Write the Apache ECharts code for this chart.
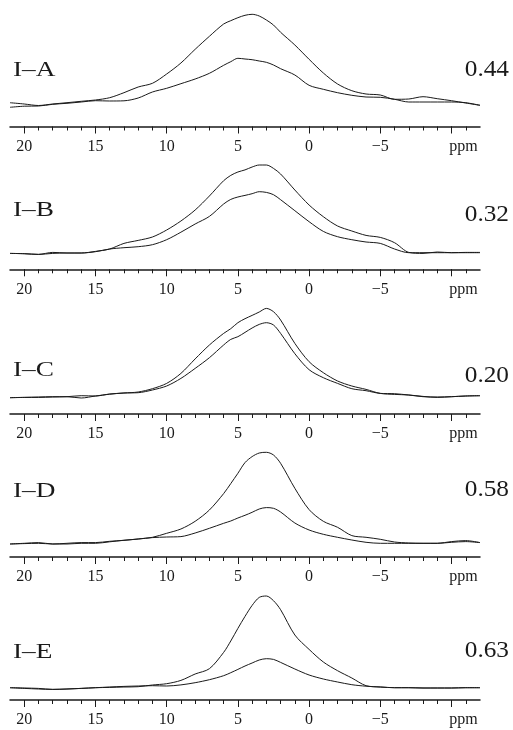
<!DOCTYPE html>
<html>
<head>
<meta charset="utf-8">
<script src="https://cdn.jsdelivr.net/npm/echarts@6/dist/echarts.min.js"></script>
<style>
html,body{margin:0;padding:0;background:#fff;}
#c{width:513px;height:730px;}
</style>
</head>
<body>
<div id="c"></div>
<script>
// chemical shift (ppm) sample positions, shared by all spectra
const ppm = [21,20,19,18,17,16,15,14,13,12,11,10,9,8,7,6,5.5,5,4.5,4,3.5,3,2.5,2,1,0,-1,-2,-3,-4,-5,-6,-7,-8,-9,-10,-11,-12];

// intensities (arbitrary units) for the two spectra of each sample
const A_upper = [1.8,0.5,-1,0.5,1.8,3.2,4.5,6.8,11.8,17.5,21.2,30.5,41.5,55.2,68.2,80.5,83.8,86.8,89.2,90.2,88.5,84.5,79.5,72.2,59.5,45.2,31.5,20.5,13.8,10.5,9.5,5.2,5.5,7.8,5.8,3.8,1.5,-0.8];
const A_lower = [-2.8,-1.7,-1.5,0.2,1.2,2.5,3.8,3.5,3.7,6.5,12.5,16.2,20.8,25.5,31.2,39.2,42.8,46.2,45.5,44.8,43.5,42.2,39.5,35.8,29.5,19.2,15.2,11.8,9.2,7.5,7.2,5.2,2.5,2.5,2.5,2.5,1.8,-0.8];
const B_upper = [-0.7,-1,-1.7,0.3,-0.3,-0.3,1.3,3.7,9.3,12.3,15.7,22.7,31.7,42.7,56.7,72,77.3,80.7,82.8,85.7,87.7,87.7,84.3,78.7,62.7,47.7,36,26.7,21.7,17.3,15.3,10,0.3,-0.7,0.7,0,0.3,0.3];
const B_lower = [-0.7,-1,-1.7,-0.7,-0.3,-0.3,1,3.7,5,6,8,13,20.5,28.7,36.3,48.7,53.3,55.7,57.3,59,61,60.3,58,53,42,31,21.3,16,13,10.7,9.3,3.7,0,0,0,0,0,0];
const C_upper = [-1,-0.7,-0.7,-0.3,0,1,0.7,2.7,3.7,4.7,8,13.3,23.3,37.8,51.7,63.3,68,74,78,81.3,84.7,88.3,85,76.7,53.3,35,24,15.7,10.7,7.3,3.3,2.3,1.7,0.3,-0.7,0,0.7,1];
const C_lower = [-1,-0.7,-0.3,0,0,-1.3,0.7,2.5,3.7,4,6.7,10.7,18.3,28.3,39,51.7,57.3,60,64.3,68.7,72.3,74,71.7,63.3,43,27,19,13.3,8,6,3.3,3,1.7,0,-0.3,0,0.7,1];
const D_upper = [-0.7,0,0.7,-0.7,0,0.7,0.7,2,3,4.3,6,10,14.3,22,33.3,49.7,59.7,70,80.7,86.7,90.3,91,88.3,80,55,33.7,22,16,7.7,6,4,1.3,0.3,0,0,1.7,2.7,0.7];
const D_lower = [-0.7,-0.3,0,-0.7,-0.7,0,0,1.5,3,4.3,5.7,6.3,6.7,10.3,15,20,22.3,25.3,28,31,34.3,35.7,35,31.3,20.3,13.3,9,6,3.3,1,0,0,0,0,0,1,1.7,0.7];
const E_upper = [0,-0.3,-0.7,-1.7,-1.3,-0.7,0,0.3,0.7,1,2.7,4,7.3,13.7,19,35.3,46.7,59.3,71.3,82.3,90.3,91.7,87,78,52.7,38.3,25.7,17,9.7,2,0.7,0,0,-0.3,-0.3,-0.3,0,0];
const E_lower = [0,-0.7,-1.3,-1.7,-1.3,-0.7,0,0.7,1.3,1.7,2,1.7,2.8,5,8,12,15,18.3,21.7,24.7,27.7,29,28.3,25.3,18.7,12.7,8.7,5.7,3,1.5,0.7,0,0,-0.3,-0.3,-0.3,0,0];

// sample names and ratios
const sampleNames = ['I\u2013A','I\u2013B','I\u2013C','I\u2013D','I\u2013E'];
const ratios = ['0.44','0.32','0.20','0.58','0.63'];

// axis tick labels
const majorTicks = [20,15,10,5,0,-5,-10];
const minorTicks = [20,19,18,17,16,15,14,13,12,11,10,9,8,7,6,5,4,3,2,1,0,-1,-2,-3,-4,-5,-6,-7,-8,-9,-10,-11];
const unitLabel = 'ppm';

const spectra = [[A_upper,A_lower],[B_upper,B_lower],[C_upper,C_lower],[D_upper,D_lower],[E_upper,E_lower]];

// layout (pixels)
const axisY = [126.5,269.3,414,557,700];
const baseY = [104.5,252.7,396.7,543.3,687.7];
const nameY = [70,210,370,491,652];
const ratioY = [70,215,376,490,651];
const LEFT = 10, RIGHT = 33, HEAD = 100;
const INK = '#1a1a1a';
const SERIF = '"Liberation Serif","Times New Roman",serif';

const grids=[], xAxes=[], yAxes=[], series=[], graphics=[];
spectra.forEach((pair,i)=>{
  const top = baseY[i]-HEAD;
  grids.push({left:LEFT,right:RIGHT,top:top,height:axisY[i]-top});
  yAxes.push({gridIndex:i,type:'value',min:-(axisY[i]-baseY[i]),max:HEAD,show:false});
  xAxes.push({
    gridIndex:i,type:'value',min:-12,max:21,inverse:true,position:'bottom',
    axisLine:{show:true,onZero:false,lineStyle:{color:INK,width:1.5}},
    axisTick:{show:true,customValues:majorTicks,length:7,lineStyle:{color:INK,width:1}},
    axisLabel:{show:true,customValues:majorTicks,margin:12,fontFamily:SERIF,fontSize:16,color:INK,
      formatter:function(v){ if(v===-10) return '{u|'+unitLabel+'}'; return v<0?'\u2212'+Math.abs(v):String(v);},
      rich:{u:{fontFamily:SERIF,fontSize:16,color:INK,padding:[0,0,0,24]}}},
    splitLine:{show:false}
  });
  xAxes.push({
    gridIndex:i,type:'value',min:-12,max:21,inverse:true,position:'bottom',
    axisLine:{show:false,onZero:false},
    axisTick:{show:true,customValues:minorTicks,length:4,lineStyle:{color:INK,width:1}},
    axisLabel:{show:false},splitLine:{show:false}
  });
  pair.forEach(vals=>{
    series.push({type:'line',xAxisIndex:2*i,yAxisIndex:i,
      data:ppm.map((p,j)=>[p,vals[j]]),
      smooth:0.3,showSymbol:false,silent:true,
      lineStyle:{color:INK,width:1}});
  });
  graphics.push({type:'text',x:13,y:nameY[i],scaleX:1.3,
    style:{text:sampleNames[i],font:'21px '+SERIF,fill:INK,align:'left',verticalAlign:'middle'}});
  graphics.push({type:'text',x:509,y:ratioY[i],scaleX:1.1,
    style:{text:ratios[i],font:'23px '+SERIF,fill:INK,align:'right',verticalAlign:'middle'}});
});

const chart = echarts.init(document.getElementById('c'),null,{renderer:'canvas'});
chart.setOption({
  backgroundColor:'#fff',animation:false,
  grid:grids,xAxis:xAxes,yAxis:yAxes,series:series,graphic:graphics
});
</script>
</body>
</html>
